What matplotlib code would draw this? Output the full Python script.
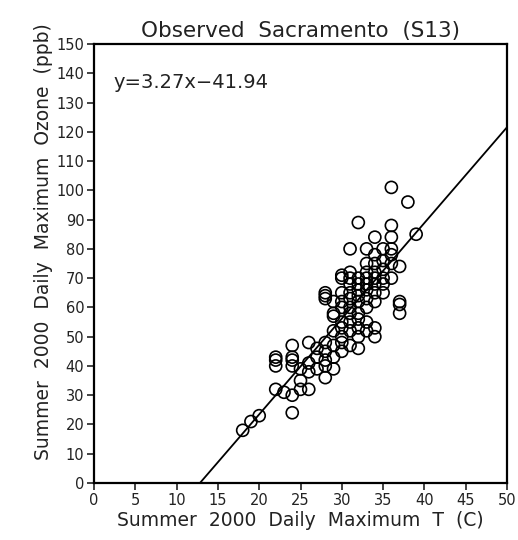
import matplotlib
matplotlib.use("Agg")
import matplotlib.pyplot as plt
import numpy as np

# Observed daily max temperature (C) and daily max ozone (ppb)
temp = [18, 19, 20, 24,
        22, 23, 25, 26, 24, 25,
        22, 22, 22, 24, 24, 24,
        24, 26, 25, 26, 27, 28, 26, 28, 28, 29, 29, 27, 27, 28, 28, 29,
        28, 28, 28,
        29, 29, 29, 29, 30, 30, 30, 30, 30, 30, 30, 30, 30, 30,
        31, 31, 31, 31, 31, 31, 31, 31, 31, 31, 31,
        32, 32, 32, 32, 32, 32, 32, 32, 32, 32, 32,
        33, 33, 33, 33, 33, 33, 33, 33, 33, 33,
        34, 34, 34, 34, 34, 34, 34, 34, 34, 34,
        35, 35, 35, 35, 35, 35,
        36, 36, 36, 36, 36, 36, 36,
        37, 37, 37, 37, 38, 39]
ozone = [18, 21, 23, 24,
         32, 31, 32, 32, 30, 35,
         40, 42, 43, 40, 42, 43,
         47, 48, 39, 38, 39, 36, 41, 40, 42, 39, 43, 43, 46, 45, 48, 47,
         63, 64, 65,
         52, 57, 58, 62, 45, 48, 50, 53, 55, 60, 62, 65, 70, 71,
         47, 52, 55, 58, 60, 63, 65, 68, 70, 72, 80,
         46, 50, 53, 56, 58, 62, 64, 66, 68, 70, 89,
         52, 55, 60, 63, 66, 68, 70, 72, 75, 80,
         50, 53, 62, 65, 68, 70, 72, 75, 78, 84,
         65, 68, 70, 73, 76, 80,
         70, 75, 78, 80, 84, 88, 101,
         58, 61, 62, 74, 96, 85]

slope = 3.27
intercept = -41.94
xticks = list(range(0, 51, 5))
yticks = list(range(0, 151, 10))

title = "Observed  Sacramento  (S13)"
xlabel = "Summer  2000  Daily  Maximum  T  (C)"
ylabel = "Summer  2000  Daily  Maximum  Ozone  (ppb)"
eq_text = "y=3.27x\u221241.94"

fig = plt.figure(figsize=(5.18, 5.40), dpi=100)
ax = fig.add_axes([94/518, (540-483)/540, (507-94)/518, (483-44)/540])

ax.scatter(temp, ozone, s=75, facecolors='none', edgecolors='black', linewidths=1.2, zorder=3)

x0 = -intercept / slope
xl = np.array([x0, 50.0])
ax.plot(xl, slope * xl + intercept, color='black', linewidth=1.3, zorder=2)

ax.set_xlim(0, 50)
ax.set_ylim(0, 150)
ax.set_xticks(xticks)
ax.set_yticks(yticks)
ax.tick_params(direction='out', length=5, width=1.2, labelsize=10.5, colors='#222222', pad=2)
for s in ax.spines.values():
    s.set_linewidth(1.6)

ax.set_title(title, fontsize=15.5, pad=5, color='#222222')
ax.set_xlabel(xlabel, fontsize=13.5, labelpad=2, color='#222222')
ax.set_ylabel(ylabel, fontsize=13.5, labelpad=2, color='#222222')
ax.yaxis.label.set_y(0.55)
ax.text(2.3, 137, eq_text, fontsize=14, va='center', ha='left', color='#222222')

fig.savefig("out.png", dpi=100)
